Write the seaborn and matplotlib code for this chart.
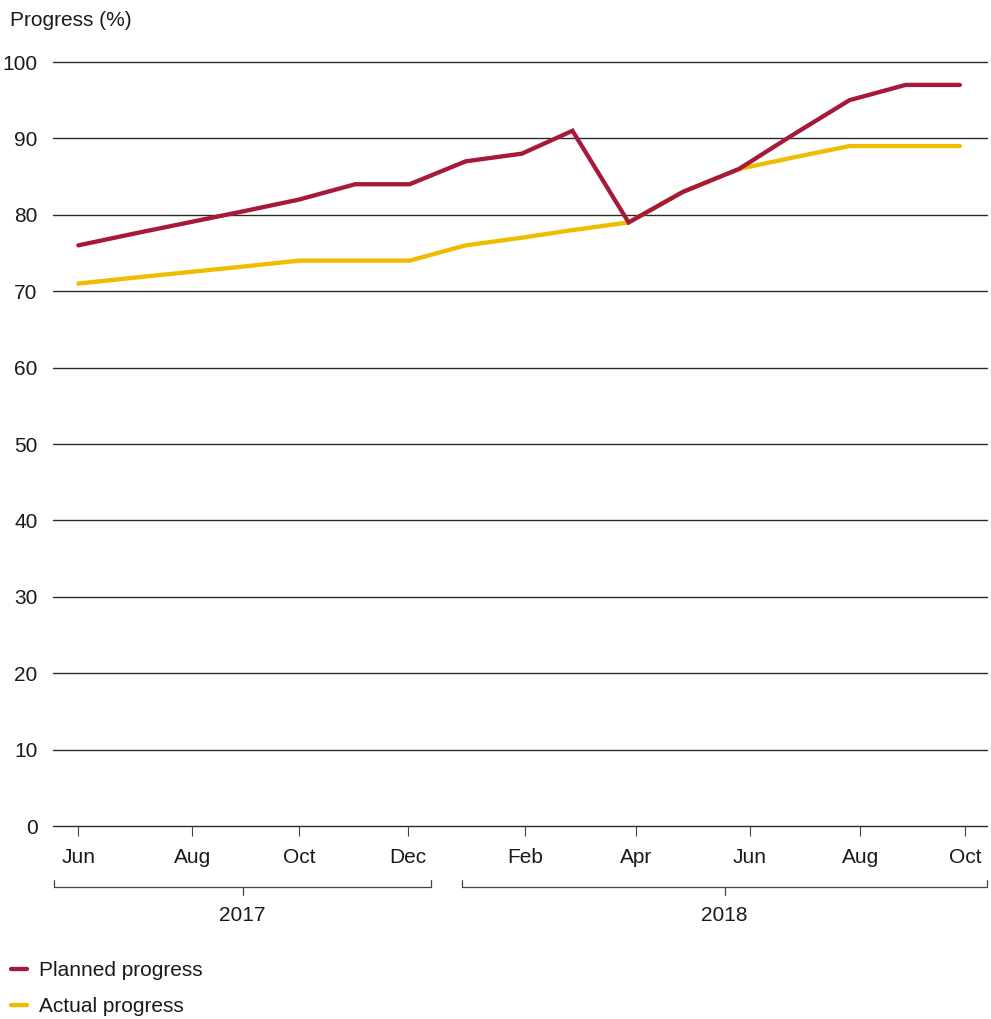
import matplotlib
matplotlib.use("Agg")
import matplotlib.pyplot as plt
import matplotlib.transforms as mtransforms
from matplotlib.lines import Line2D
import seaborn as sns
import pandas as pd
import numpy as np

# ---- data ----
months = pd.date_range("2017-06-01", periods=17, freq="MS")
planned = [76, 77.5, 79, 80.5, 82, 84, 84, 87, 88, 91, 79, 83, 86, 90.5, 95, 97, 97]
actual = [71, 71.75, 72.5, 73.25, 74, 74, 74, 76, 77, 78, 79, 83, 86, 87.5, 89, 89, 89]
series_names = ["Planned progress", "Actual progress"]
tick_dates = pd.to_datetime(["2017-06-01", "2017-08-03", "2017-10-01", "2017-11-30",
                             "2018-02-03", "2018-04-05", "2018-06-07", "2018-08-07",
                             "2018-10-04"])
tick_labels = ["Jun", "Aug", "Oct", "Dec", "Feb", "Apr", "Jun", "Aug", "Oct"]
years = ["2017", "2018"]
y_ticks = [0, 10, 20, 30, 40, 50, 60, 70, 80, 90, 100]

RED = "#A6193A"
YELLOW = "#EFBC00"
TXT = "#1a1a1a"
FS = 15

df = pd.DataFrame({
    "date": list(months) * 2,
    "value": planned + actual,
    "series": [series_names[0]] * len(months) + [series_names[1]] * len(months),
})

sns.set_theme(style="white")
plt.rcParams["font.family"] = ["Liberation Sans", "DejaVu Sans"]
plt.rcParams["font.size"] = FS

fig = plt.figure(figsize=(9.91, 10.19), dpi=100)
ax = fig.add_axes([53 / 991, 1 - 826 / 1019, (987 - 53) / 991, (826 - 62) / 1019])

sns.lineplot(data=df, x="date", y="value", hue="series",
             hue_order=[series_names[1], series_names[0]],
             palette={series_names[0]: RED, series_names[1]: YELLOW},
             linewidth=3.1, ax=ax, legend=False)
for ln in ax.lines:
    ln.set_solid_capstyle("round")
    ln.set_solid_joinstyle("miter")

ax.set_ylim(0, 100)
ax.set_xlim(pd.Timestamp("2017-05-18"), pd.Timestamp("2018-10-16"))
ax.set_yticks(y_ticks)
ax.set_yticklabels([str(v) for v in y_ticks], color=TXT, fontsize=FS)
ax.tick_params(axis="y", length=0, pad=11)
ax.set_xticks(tick_dates)
ax.set_xticklabels(tick_labels, color=TXT, fontsize=FS)
ax.tick_params(axis="x", length=7, width=0.8, color="#444444", pad=9, direction="out")
ax.xaxis.set_ticks_position("bottom")
ax.set_xlabel("")
ax.set_ylabel("")
for s in ax.spines.values():
    s.set_visible(False)
ax.grid(False)
for v in y_ticks:
    ax.axhline(v, color="#2b2b2b", linewidth=1.0, zorder=0.5, clip_on=False)

# year brackets
trans = mtransforms.blended_transform_factory(fig.transFigure, ax.transAxes)
def bracket(x0, x1, label):
    y = -0.0798
    ax.plot([x0, x0, x1, x1], [-0.0707, y, y, -0.0707], transform=trans,
            color="#444444", linewidth=0.9, clip_on=False)
    xc = (x0 + x1) / 2
    ax.plot([xc, xc], [y, -0.0903], transform=trans, color="#444444",
            linewidth=0.9, clip_on=False)
    ax.text(xc, -0.1165, label, transform=trans, ha="center", va="center",
            color=TXT, fontsize=FS)

bracket(54 / 991, 431 / 991, years[0])
bracket(462 / 991, 987 / 991, years[1])

fig.text(10 / 991, 1 - 20 / 1019, "Progress (%)", ha="left", va="center",
         color=TXT, fontsize=FS)

handles = [Line2D([0], [0], color=RED, linewidth=3.1, solid_capstyle="round"),
           Line2D([0], [0], color=YELLOW, linewidth=3.1, solid_capstyle="round")]
fig.legend(handles, series_names, loc="upper left",
           bbox_to_anchor=(0.011, 1 - 961 / 1019), frameon=False,
           handlelength=0.75, handletextpad=0.6, labelspacing=0.82,
           fontsize=FS, labelcolor=TXT, borderaxespad=0.0, borderpad=0.0)

fig.savefig("out.png", dpi=100)
